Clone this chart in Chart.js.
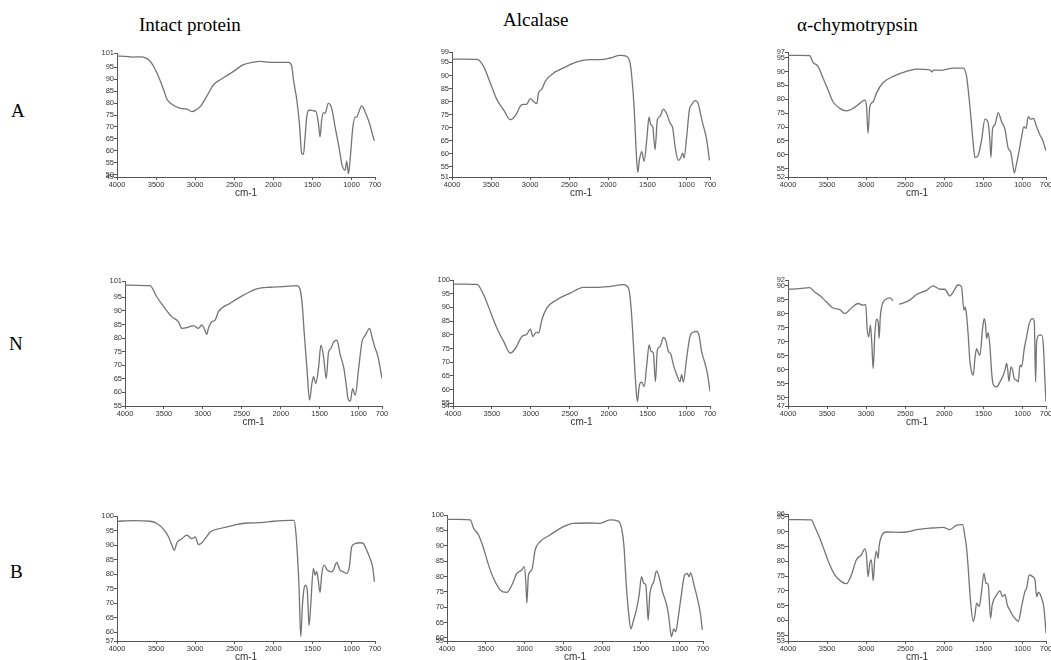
<!DOCTYPE html>
<html><head><meta charset="utf-8">
<script src="https://cdn.jsdelivr.net/npm/chart.js@4/dist/chart.umd.min.js"></script>
<style>
body{margin:0;width:1051px;height:660px;overflow:hidden;background:#fff;position:relative;}
.lbl{position:absolute;font-family:"Liberation Serif","Times New Roman",serif;font-size:19px;line-height:19px;color:#000;white-space:nowrap;}
.pc{position:absolute;}
</style></head><body>
<div class="lbl" style="left:139px;top:15px;">Intact protein</div>
<div class="lbl" style="left:503px;top:10px;">Alcalase</div>
<div class="lbl" style="left:797px;top:15px;">α-chymotrypsin</div>
<div class="lbl" style="left:11px;top:101px;">A</div>
<div class="lbl" style="left:9px;top:334px;">N</div>
<div class="lbl" style="left:10px;top:562px;">B</div>
<script>
// [wavenumber cm-1, transmittance %]
const A_intact = [[4000,99.7],[3900,99.6],[3800,99.3],[3700,99.4],[3660,99.3],[3574,97.5],[3489,92.6],[3404,85.6],[3361,81.6],[3297,79.5],[3191,77.8],[3106,77.5],[3042,76.4],[2978,77.4],[2935,78.5],[2850,83],[2765,87.7],[2680,89.8],[2595,91.5],[2510,93.3],[2382,96.1],[2254,97.2],[2169,97.5],[2041,97.1],[1914,97.1],[1807,97.1],[1764,95.4],[1743,89.8],[1700,81.3],[1667,71.5],[1637,58.8],[1616,58.5],[1594,65.8],[1573,74.3],[1539,77.1],[1488,76.8],[1454,76.4],[1424,71.5],[1403,65.8],[1382,72.9],[1360,76],[1339,75.7],[1297,79.9],[1254,77.8],[1211,70.1],[1169,63],[1147,58.8],[1126,54.6],[1083,51.8],[1062,55.6],[1040,50.4],[1019,56],[985,69.4],[955,74.1],[934,74.1],[913,75.7],[870,78.8],[828,76.4],[785,72.9],[755,69.8],[730,66.5],[708,64.2]];
const A_alcalase = [[4000,96.3],[3850,96.3],[3750,96.2],[3681,96.2],[3596,93.5],[3510,87.1],[3425,80.7],[3340,76.8],[3255,73],[3191,74.5],[3106,78.8],[3042,79],[3000,81.1],[2957,80],[2914,79.2],[2893,83.3],[2850,84.8],[2808,87.7],[2701,90.9],[2574,92.9],[2403,95.2],[2233,96.1],[2105,96.1],[1977,96.7],[1850,97.7],[1765,97.3],[1722,94.8],[1701,89.7],[1671,78.1],[1645,61.5],[1624,52.8],[1603,57.6],[1573,60.7],[1543,57],[1509,65.3],[1480,74],[1458,71.1],[1433,70.4],[1403,61.5],[1373,73],[1339,74.3],[1297,77.1],[1254,75.3],[1211,71.7],[1177,69.8],[1147,62.8],[1105,57.4],[1075,58.3],[1049,60.2],[1032,58.3],[998,66.6],[964,76.8],[934,78.8],[891,80.3],[857,79.7],[828,76.2],[794,71.7],[751,66.6],[730,62.8],[708,57.4]];
const A_chymo = [[4000,95.8],[3850,95.8],[3723,95.7],[3680,93.3],[3616,91.8],[3552,87.6],[3488,83.4],[3424,79.1],[3338,76.7],[3253,75.8],[3168,76.7],[3082,78.5],[3018,79.7],[2997,77.9],[2976,67.7],[2954,77.3],[2911,79.1],[2869,82.2],[2783,86],[2655,88.2],[2485,90],[2356,90.8],[2186,90.6],[2160,89.8],[2140,90.5],[2036,90.4],[1887,91.2],[1759,91.2],[1716,88.2],[1673,77.3],[1631,64.1],[1609,59],[1567,59.8],[1524,65.3],[1481,72.8],[1439,71.3],[1418,65.3],[1405,59],[1383,69.5],[1353,70.8],[1311,75.2],[1268,71.9],[1225,69.2],[1183,62.3],[1153,61.1],[1127,56.9],[1106,53.5],[1076,56.9],[1042,61.7],[1012,66.5],[982,70.1],[956,69.5],[926,73.7],[896,72.8],[862,73.1],[820,70.1],[777,67.1],[743,65.3],[700,61.4]];
const N_intact = [[4000,99.5],[3850,99.4],[3679,99.3],[3593,95.2],[3486,90.9],[3400,87.9],[3314,86],[3271,83.6],[3207,83.8],[3121,84.6],[3057,83.6],[3014,84.8],[2984,83.6],[2950,81.4],[2929,83.6],[2886,86],[2843,86.6],[2800,89.7],[2650,92.8],[2479,95.8],[2307,98.1],[2136,98.7],[1964,98.9],[1793,99.3],[1750,97.7],[1720,90.9],[1700,82.3],[1664,68.8],[1630,57.2],[1600,63.3],[1579,65.8],[1549,63.3],[1514,69.4],[1484,77.4],[1450,73.1],[1416,65.1],[1386,74.9],[1356,76.2],[1321,78.6],[1279,79.2],[1236,73.7],[1193,69.4],[1159,62.7],[1137,57.8],[1107,56.8],[1077,61.4],[1043,59],[1000,68.8],[957,78.6],[914,81],[859,83.6],[829,80.5],[794,76.8],[751,73.1],[700,65.1]];
const N_alcalase = [[4000,98.5],[3850,98.5],[3692,98.4],[3607,94.6],[3521,88.5],[3436,82.4],[3350,77.6],[3265,73.3],[3201,74.9],[3115,79.4],[3051,80.2],[3008,82.1],[2974,79.4],[2931,81],[2901,80.6],[2859,85.5],[2794,89.8],[2666,92.8],[2495,95.2],[2324,97.3],[2153,97.3],[1982,97.7],[1811,98.3],[1747,97.1],[1713,89.8],[1683,76.3],[1653,61.7],[1632,55.6],[1606,61.7],[1576,62.7],[1546,61.1],[1512,69],[1482,76.3],[1457,73.9],[1427,73.3],[1401,62.9],[1376,74.5],[1341,75.7],[1299,79],[1264,77.6],[1234,73.9],[1204,73],[1170,69],[1127,65.4],[1085,62.9],[1064,65.4],[1042,62.7],[1000,71.5],[957,79.4],[914,81],[872,81.2],[838,79.4],[808,73.9],[765,69.6],[730,65.4],[700,59.3]];
const N_chymo = [[4000,88.7],[3851,88.9],[3723,89.3],[3659,87.7],[3594,86.5],[3509,84.2],[3424,82],[3338,81.4],[3274,80],[3189,82],[3104,83.6],[3039,83],[3005,83.2],[2988,74.7],[2967,71.7],[2946,75.9],[2928,69.3],[2911,60.4],[2890,72.3],[2869,78],[2847,77.1],[2835,71.1],[2818,79.4],[2762,84.8],[2698,85.6],[2655,84.6],[2620,null],[2580,83.4],[2548,83.6],[2442,84.8],[2356,86.8],[2228,88.3],[2143,89.9],[2058,88.7],[1994,88.7],[1930,86.3],[1887,87.7],[1823,90.3],[1780,89.5],[1750,81.2],[1733,82.4],[1716,79.4],[1695,72.3],[1673,62.8],[1652,59.2],[1631,58],[1609,64],[1588,67.5],[1567,66.1],[1545,65.1],[1511,74.7],[1490,78.2],[1473,75.9],[1460,71.1],[1439,73.2],[1418,68.7],[1396,59.2],[1375,54.7],[1332,53.8],[1289,55.6],[1247,58],[1225,59.8],[1204,62.2],[1191,60.4],[1174,55.8],[1148,61],[1127,59.8],[1106,56.8],[1076,56.2],[1055,55.6],[1033,61.6],[1012,61],[978,67.5],[948,71.7],[914,76.5],[871,78.2],[850,77.1],[833,55.6],[820,70],[786,72.3],[756,72.3],[734,68.7],[713,55.6],[700,48.5]];
const B_intact = [[4000,98.2],[3787,98.4],[3574,98.2],[3489,97.4],[3404,95.4],[3340,92.8],[3297,89.9],[3268,88.2],[3234,90.8],[3170,92.2],[3106,93.4],[3042,92.2],[3000,92.8],[2957,90.2],[2914,90.8],[2872,92.2],[2808,94.5],[2680,95.7],[2510,96.8],[2339,97.6],[2169,97.7],[1999,98.2],[1786,98.5],[1735,98.5],[1713,94.5],[1692,86.5],[1671,75.1],[1650,58.5],[1628,69.4],[1607,75.1],[1586,76.2],[1565,73.9],[1543,62.3],[1522,69.4],[1488,82],[1467,79.7],[1446,80.9],[1424,77.4],[1403,73.7],[1382,79.7],[1352,83.1],[1309,81.4],[1254,80.8],[1232,81.4],[1190,84],[1147,81.4],[1105,80.8],[1062,80.2],[1028,82.5],[998,89.4],[955,90.5],[891,90.8],[849,90.5],[806,88.2],[764,85.4],[730,82.5],[708,77.4]];
const B_alcalase = [[4000,98.6],[3850,98.6],[3700,98.4],[3657,95.7],[3593,93.5],[3529,89.2],[3464,83.7],[3400,79.4],[3314,75.6],[3229,74.8],[3164,77.2],[3100,81],[3036,82.1],[3006,83.2],[2984,78.3],[2971,71.3],[2950,80.5],[2907,82.1],[2864,88.6],[2800,91.3],[2671,93.5],[2500,96.2],[2371,97.3],[2157,97.4],[2029,97.3],[1900,98.4],[1793,98],[1750,95.7],[1720,90.2],[1686,76.1],[1656,67.5],[1630,62.9],[1600,65.3],[1557,69.4],[1523,74],[1493,79.9],[1463,77.8],[1437,77.2],[1420,70.7],[1407,65.8],[1386,74],[1364,76.7],[1334,78.3],[1300,81.8],[1257,78.9],[1223,75.1],[1180,71.8],[1150,68.5],[1129,64.2],[1107,60.4],[1077,62.9],[1051,62],[1021,66.4],[979,74],[936,80.5],[901,81],[880,79.9],[859,81.2],[816,77.2],[773,72.9],[734,68],[709,62.6]];
const B_chymo = [[4000,94.1],[3850,94.1],[3701,94],[3659,91.8],[3594,87.9],[3530,83.3],[3466,78.8],[3402,75.4],[3317,73.1],[3253,72.4],[3189,75.4],[3125,80.5],[3061,82.2],[3018,84.2],[2997,82.2],[2976,74.8],[2954,79.4],[2933,80.5],[2911,73.4],[2890,80.5],[2869,83.3],[2847,81],[2835,85],[2805,88.4],[2741,89.9],[2570,89.8],[2485,89.9],[2356,90.7],[2186,91.2],[2015,91.5],[1930,90.7],[1844,92.2],[1767,92.4],[1737,88.4],[1716,84.5],[1695,77.7],[1665,66.4],[1631,59.6],[1609,61.8],[1588,65.8],[1554,64.7],[1524,69.8],[1494,76],[1468,72.6],[1439,72.1],[1409,60.7],[1388,65.2],[1332,68.6],[1289,70],[1255,68],[1225,68.8],[1195,65.2],[1153,63],[1119,61.3],[1076,60.1],[1055,59.6],[1012,64.7],[969,69.8],[948,70.9],[914,75.4],[871,74.8],[841,73.7],[820,68],[798,69.5],[756,67.5],[726,64.1],[700,55.6]];

// tick values / labels
const xTickValues = [4000,3500,3000,2500,2000,1500,1000,700];
const xTickLabels = ['4000','3500','3000','2500','2000','1500','1000','700'];
const xTickLabelsB_alc = ['4000','3500','3000','3500','2000','1500','1000','700'];
const yT_A_intact = [49,50,55,60,65,70,75,80,85,90,95,101];
const yT_A_alc = [51,55,60,65,70,75,80,85,90,95,99];
const yT_A_chy = [52,55,60,65,70,75,80,85,90,95,97];
const yT_N_intact = [55,60,65,70,75,80,85,90,95,101];
const yT_N_alc = [54,55,60,65,70,75,80,85,90,95,100];
const yT_N_chy = [47,50,55,60,65,70,75,80,85,90,92];
const yT_B_intact = [57,60,65,70,75,80,85,90,95,100];
const yT_B_alc = [59,60,65,70,75,80,85,90,95,100];
const yT_B_chy = [53,55,60,65,70,75,80,85,90,95,96];

const panels = [
 {d:A_intact,   yt:yT_A_intact, xl:xTickLabels, L:117,R:375,T:53, B:177},
 {d:A_alcalase, yt:yT_A_alc,    xl:xTickLabels, L:452,R:710,T:52, B:177},
 {d:A_chymo,    yt:yT_A_chy,    xl:xTickLabels, L:788,R:1046,T:52,B:177},
 {d:N_intact,   yt:yT_N_intact, xl:xTickLabels, L:125,R:382,T:281,B:406},
 {d:N_alcalase, yt:yT_N_alc,    xl:xTickLabels, L:453,R:710,T:280,B:406},
 {d:N_chymo,    yt:yT_N_chy,    xl:xTickLabels, L:788,R:1046,T:280,B:406},
 {d:B_intact,   yt:yT_B_intact, xl:xTickLabels, L:117,R:375,T:516,B:641},
 {d:B_alcalase, yt:yT_B_alc,    xl:xTickLabelsB_alc, L:447,R:703,T:515,B:641},
 {d:B_chymo,    yt:yT_B_chy,    xl:xTickLabels, L:788,R:1046,T:514,B:641}
];

const YW = 30, PT = 8, PR = 14, XH = 22;
const tickFont = {family:'"Liberation Sans", Arial, sans-serif', size:7.5};
const axisCol = '#555';

panels.forEach(p => {
  const w = p.R - p.L + YW + PR, h = p.B - p.T + PT + XH;
  const div = document.createElement('div');
  div.className = 'pc';
  div.style.left = (p.L - YW) + 'px';
  div.style.top = (p.T - PT) + 'px';
  const cv = document.createElement('canvas');
  cv.width = w; cv.height = h;
  cv.style.width = w + 'px'; cv.style.height = h + 'px';
  div.appendChild(cv);
  document.body.appendChild(div);
  new Chart(cv.getContext('2d'), {
    type: 'line',
    data: {datasets: [{
      data: p.d.map(q => ({x: q[0], y: q[1]})),
      borderColor: '#747474', borderWidth: 1.3, pointRadius: 0,
      cubicInterpolationMode: 'monotone', spanGaps: false, fill: false
    }]},
    options: {
      responsive: false, animation: false, events: [],
      layout: {padding: {top: PT, right: PR, left: 0, bottom: 0}},
      plugins: {legend: {display: false}, tooltip: {enabled: false}},
      scales: {
        x: {
          type: 'linear', reverse: true, min: 700, max: 4000,
          afterBuildTicks: s => { s.ticks = xTickValues.map(v => ({value: v})); },
          afterFit: s => { s.height = XH; },
          ticks: {autoSkip: false, maxRotation: 0, padding: 0, font: tickFont, color: '#333',
                  callback: (v, i) => p.xl[i]},
          grid: {drawOnChartArea: false, drawTicks: true, tickLength: 3, color: axisCol},
          border: {display: true, color: axisCol, width: 1},
          title: {display: true, text: 'cm-1', color: '#333', padding: 0,
                  font: {family: '"Liberation Sans", Arial, sans-serif', size: 10}}
        },
        y: {
          min: p.yt[0], max: p.yt[p.yt.length - 1],
          afterBuildTicks: s => { s.ticks = p.yt.map(v => ({value: v})); },
          afterFit: s => { s.width = YW; },
          ticks: {autoSkip: false, padding: 0, font: tickFont, color: '#333'},
          grid: {drawOnChartArea: false, drawTicks: true, tickLength: 3, color: axisCol},
          border: {display: true, color: axisCol, width: 1}
        }
      }
    }
  });
});
</script>
</body></html>
